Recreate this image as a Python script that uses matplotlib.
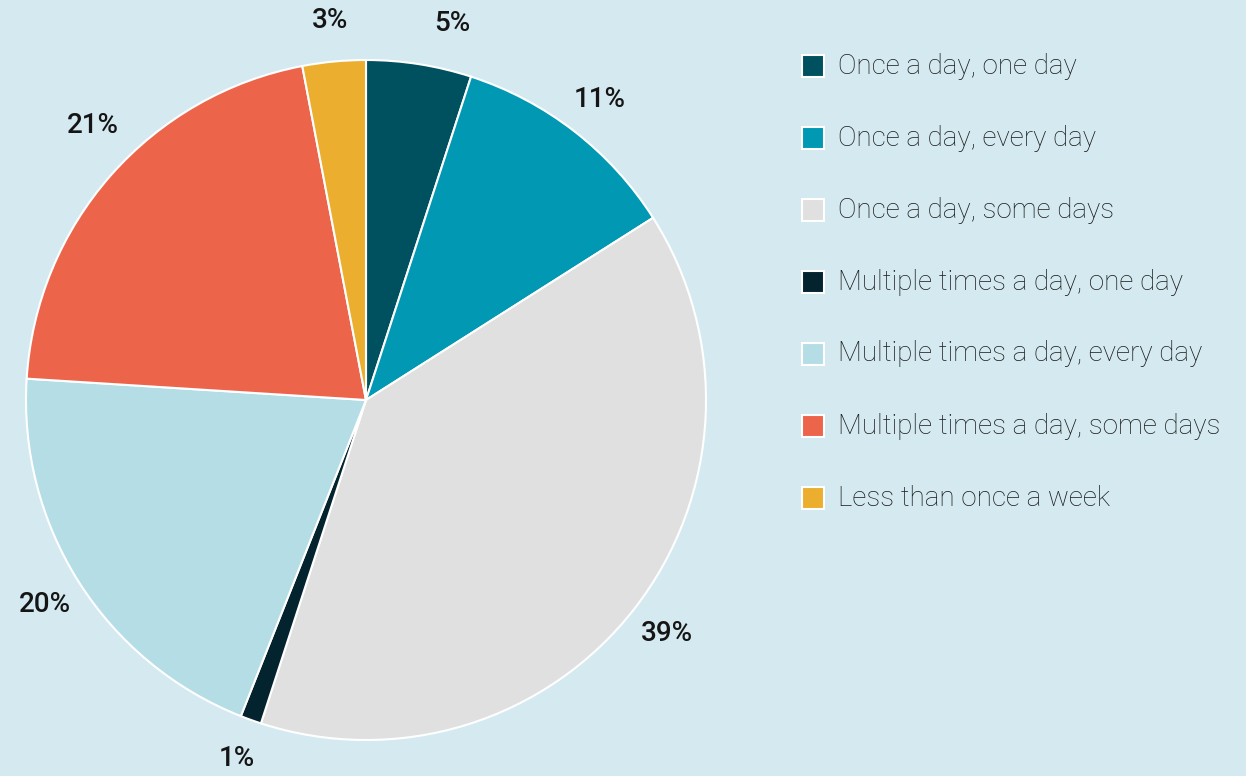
import matplotlib.pyplot as plt
from matplotlib.patches import Rectangle
from matplotlib.transforms import offset_copy

labels = [
    "Once a day, one day",
    "Once a day, every day",
    "Once a day, some days",
    "Multiple times a day, one day",
    "Multiple times a day, every day",
    "Multiple times a day, some days",
    "Less than once a week",
]
shares = [5, 11, 39, 1, 20, 21, 3]
colors = ["#00515f", "#0098b3", "#e0e0e0", "#03232f", "#b5dde5", "#ec654b", "#ecae2e"]

BG = "#d4eaf0"
plt.rcParams["font.family"] = ["Roboto", "DejaVu Sans"]

fig = plt.figure(figsize=(12.46, 7.76), dpi=100, facecolor=BG)
ax = fig.add_axes([26 / 1246, 36 / 776, 680 / 1246, 680 / 776])
ax.set_facecolor(BG)

wedges, texts, autotexts = ax.pie(
    shares, colors=colors, startangle=90, counterclock=False,
    autopct="%d%%", pctdistance=1.12,
    wedgeprops=dict(edgecolor="white", linewidth=1.5),
    textprops=dict(fontsize=20, color="#151515", fontweight="medium"),
)
ax.set_xlim(-1, 1)
ax.set_ylim(-1, 1)
ax.set_aspect("equal")

# small nudges (pixels) so a couple of labels sit where the original has them
nudge = {0: (27, 0), 5: (12, 23)}
for i, (dx, dy) in nudge.items():
    t = autotexts[i]
    t.set_transform(offset_copy(ax.transData, fig=fig, x=dx, y=dy, units="dots"))

# legend drawn by hand: square + label per row
for i, (lab, c) in enumerate(zip(labels, colors)):
    y = 1 - (66 + 72 * i) / 776
    fig.add_artist(Rectangle((802 / 1246, y - 11 / 776), 22 / 1246, 22 / 776,
                             transform=fig.transFigure, facecolor=c,
                             edgecolor="white", linewidth=1.5))
    fig.text(838 / 1246, y, lab, fontsize=20, fontweight="light",
             color="#1a1a1a", va="center", ha="left")

fig.savefig("out.png", dpi=100, facecolor=BG)
